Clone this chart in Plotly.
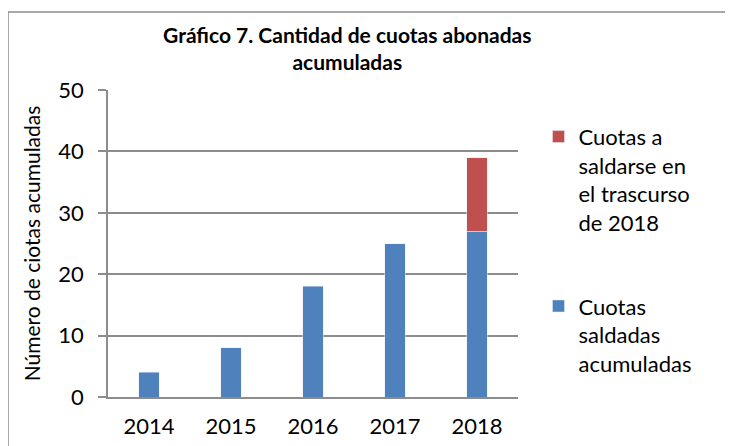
import plotly.graph_objects as go

# Data
years = ["2014", "2015", "2016", "2017", "2018"]
saldadas = [4, 8, 18, 25, 27]
por_saldar = [None, None, None, None, 12]

BLUE = "#4f81bd"
RED = "#c0504d"
GRID = "#8c8c8c"
FONT = "Lato, Carlito, 'Open Sans', sans-serif"

fig = go.Figure()
fig.add_trace(go.Bar(
    x=years,
    y=saldadas,
    name="Cuotas<br>saldadas<br>acumuladas",
    marker_color=BLUE,
    width=0.25,
    legendgroup="a",
    legendrank=2,
))
fig.add_trace(go.Bar(
    x=years,
    y=por_saldar,
    name="Cuotas a<br>saldarse en<br>el trascurso<br>de 2018",
    marker_color=RED,
    width=0.25,
    legendgroup="b",
    legendrank=1,
))

# outer chart border
fig.add_shape(
    type="rect", xref="paper", yref="paper",
    x0=-0.2439, x1=1.522, y0=-0.25, y1=1.254,
    line=dict(color=GRID, width=1.5), fillcolor="rgba(0,0,0,0)",
    layer="below",
)

fig.update_layout(
    width=725,
    height=438,
    barmode="stack",
    plot_bgcolor="white",
    paper_bgcolor="white",
    font=dict(family=FONT, color="#000000"),
    margin=dict(l=100, r=215, t=82, b=49),
    title=dict(
        text="<b>Gráfico 7. Cantidad de cuotas abonadas<br>acumuladas</b>",
        x=0.468, xanchor="center", y=0.92, yanchor="top",
        font=dict(size=21, family=FONT),
    ),
    xaxis=dict(
        showgrid=False,
        showline=True, linecolor=GRID, linewidth=1.5,
        ticks="", tickfont=dict(size=22),
        ticklabelstandoff=9,
        automargin=False,
    ),
    yaxis=dict(
        range=[0, 50], dtick=10,
        showgrid=True, gridcolor=GRID, gridwidth=1.5,
        showline=True, linecolor=GRID, linewidth=1.5,
        ticks="outside", ticklen=8, tickcolor=GRID, tickwidth=1.5,
        tickfont=dict(size=22),
        ticklabelstandoff=10,
        zeroline=False,
        automargin=False,
        title=dict(text="Número de ciotas acumuladas", font=dict(size=21), standoff=12),
    ),
    legend=dict(
        x=1.05, xanchor="left", y=0.916, yanchor="top",
        traceorder="grouped",
        tracegroupgap=52,
        valign="top",
        font=dict(size=22),
        itemwidth=30,
        bgcolor="rgba(0,0,0,0)",
    ),
)

fig.write_html("out.html")
